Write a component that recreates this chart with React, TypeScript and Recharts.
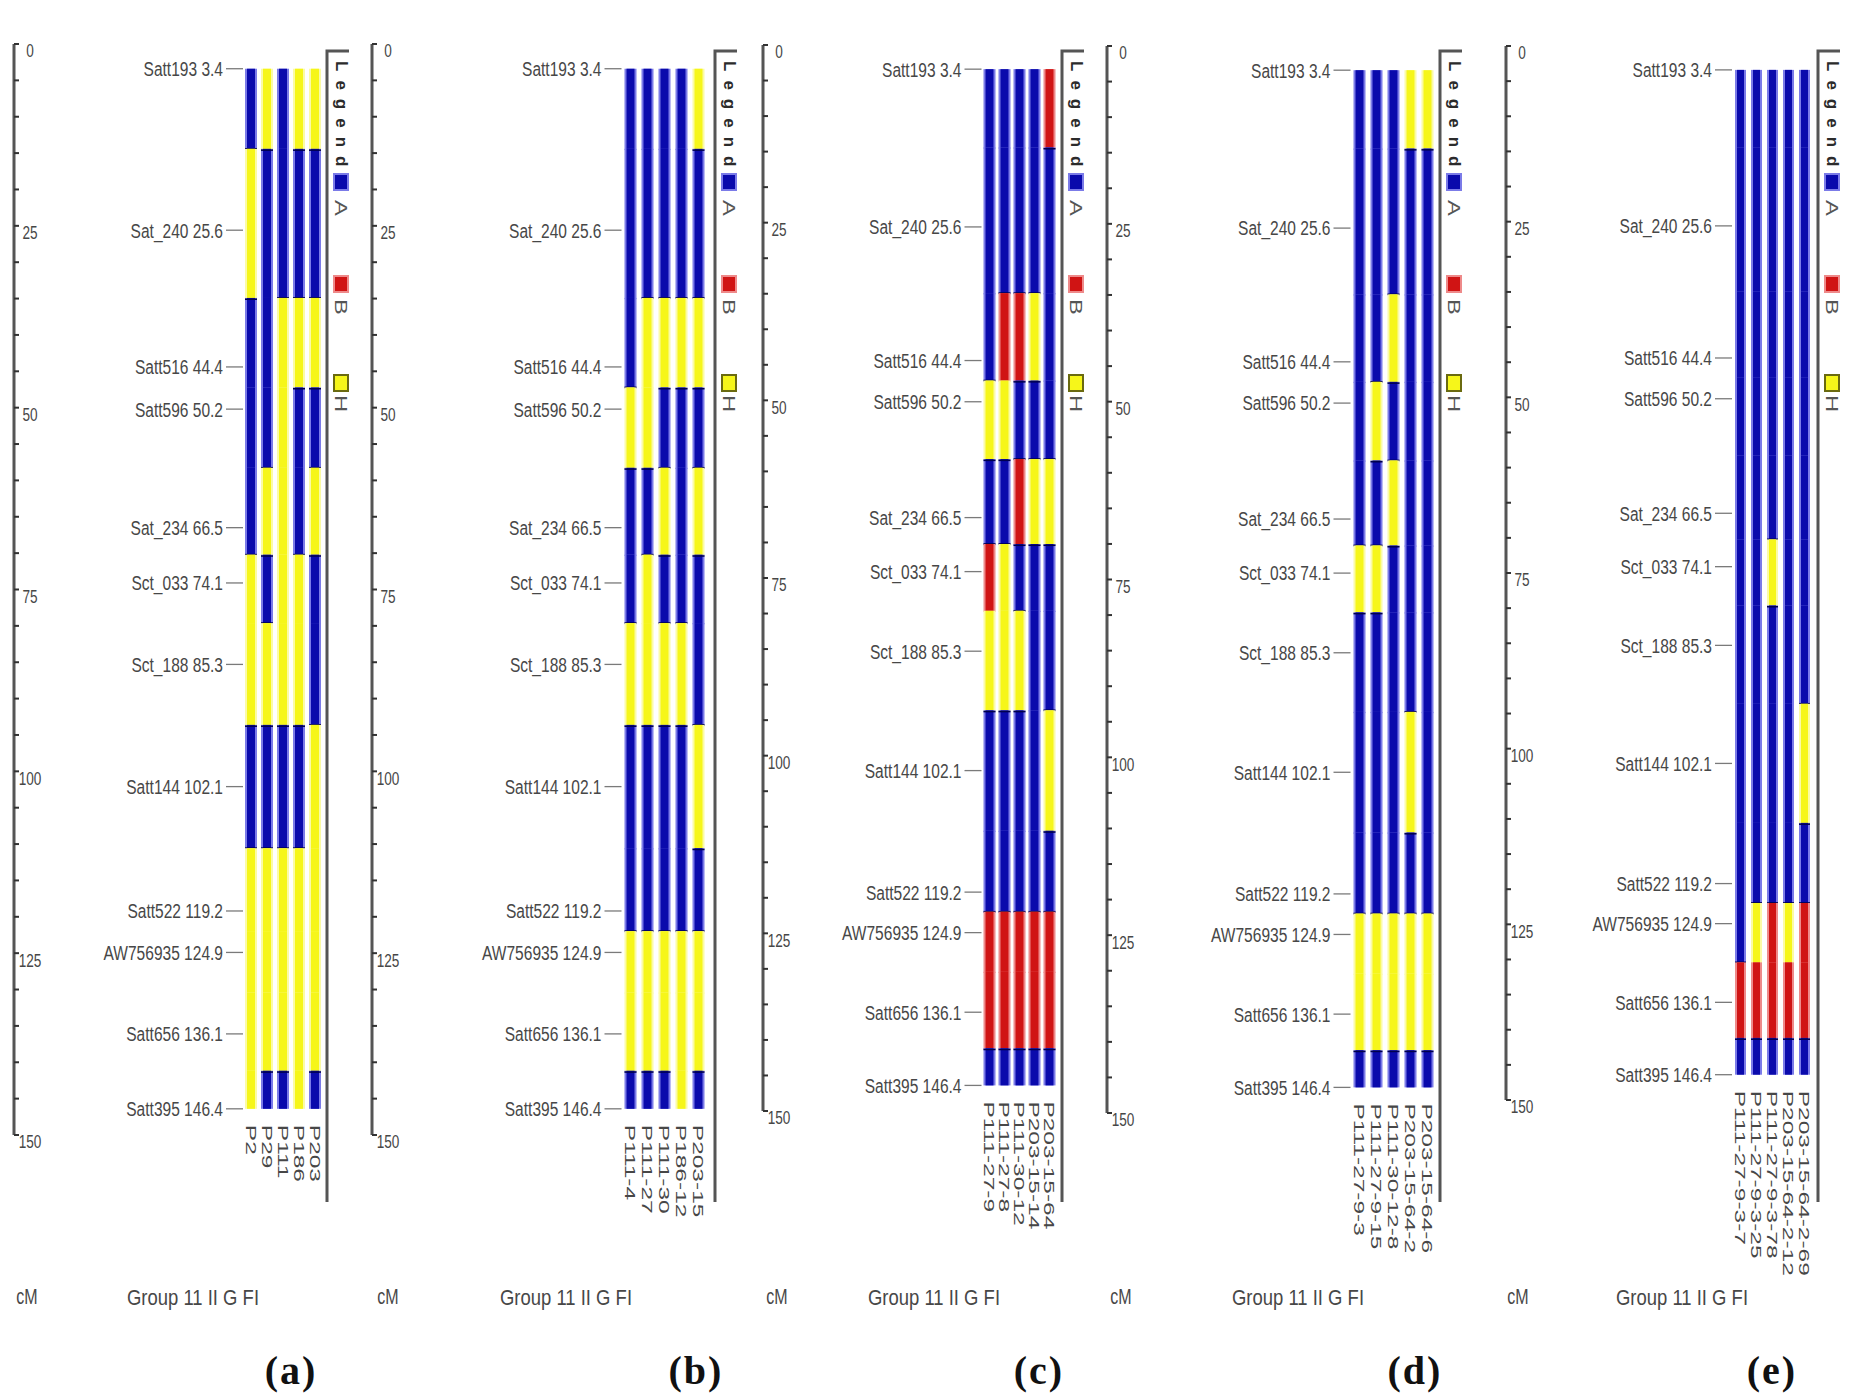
import React from 'react';
import { BarChart, Bar, XAxis, YAxis } from 'recharts';

// ---------------- data ----------------
const MARKER_NAMES = ['Satt193', 'Sat_240', 'Satt516', 'Satt596', 'Sat_234', 'Sct_033', 'Sct_188', 'Satt144', 'Satt522', 'AW756935', 'Satt656', 'Satt395'];
const MARKER_POS = [3.4, 25.6, 44.4, 50.2, 66.5, 74.1, 85.3, 102.1, 119.2, 124.9, 136.1, 146.4];

const CM_TICKS = [0, 5, 10, 15, 20, 25, 30, 35, 40, 45, 50, 55, 60, 65, 70, 75, 80, 85, 90, 95, 100, 105, 110, 115, 120, 125, 130, 135, 140, 145, 150];
const CM_LABELS = [0, 25, 50, 75, 100, 125, 150];

// genotype per line, one letter per marker (A / B / H)
const LINES_A = ['P2', 'P29', 'P111', 'P186', 'P203'];
const GENO_A = ['AHAAAHHAHHHH', 'HAAAHAHAHHHA', 'AAHHHHHAHHHA', 'HAHAAHHAHHHH', 'HAHAHAAHHHHA'];

const LINES_B = ['P111-4', 'P111-27', 'P111-30', 'P186-12', 'P203-15'];
const GENO_B = ['AAAHAAHAAHHA', 'AAHHAHHAAHHA', 'AAHAHAHAAHHA', 'AAHAAAHAAHHH', 'HAHAHAAHAHHA'];

const LINES_C = ['P111-27-9', 'P111-27-8', 'P111-30-12', 'P203-15-14', 'P203-15-64'];
const GENO_C = ['AAAHABHAABBA', 'AABHAHHAABBA', 'AABABAHAABBA', 'AAHAHAAAABBA', 'BAAAHAAHABBA'];

const LINES_D = ['P111-27-9-3', 'P111-27-9-15', 'P111-30-12-8', 'P203-15-64-2', 'P203-15-64-6'];
const GENO_D = ['AAAAAHAAAHHA', 'AAAHAHAAAHHA', 'AAHAHAAAAHHA', 'HAAAAAAHAHHA', 'HAAAAAAAAHHA'];

const LINES_E = ['P111-27-9-3-7', 'P111-27-9-3-25', 'P111-27-9-3-78', 'P203-15-64-2-12', 'P203-15-64-2-69'];
const GENO_E = ['AAAAAAAAAABA', 'AAAAAAAAAHBA', 'AAAAAHAAABBA', 'AAAAAAAAAHBA', 'AAAAAAAHABBA'];

const PANEL_LETTERS = ['(a)', '(b)', '(c)', '(d)', '(e)'];
const GROUP_TITLE = 'Group 11 II G FI';
const UNIT_LABEL = 'cM';
const LEGEND_TITLE = 'Legend';
const LEGEND_KEYS = ['A', 'B', 'H'];

const PANELS = [
  { lines: LINES_A, geno: GENO_A },
  { lines: LINES_B, geno: GENO_B },
  { lines: LINES_C, geno: GENO_C },
  { lines: LINES_D, geno: GENO_D },
  { lines: LINES_E, geno: GENO_E },
];

// ---------------- layout / style ----------------
const LAYOUT = [
  { axisX: 14, y0: 44, y150: 1135, plotLeft: 243, pitch: 16, barSize: 12, legendX: 327, cmX: 27, groupX: 193, letterX: 291 },
  { axisX: 372, y0: 44, y150: 1135, plotLeft: 621.5, pitch: 17, barSize: 12, legendX: 715, cmX: 388, groupX: 566, letterX: 696 },
  { axisX: 763, y0: 45, y150: 1111, plotLeft: 981.5, pitch: 15, barSize: 12, legendX: 1062, cmX: 777, groupX: 934, letterX: 1039 },
  { axisX: 1107, y0: 46, y150: 1113, plotLeft: 1350.5, pitch: 17, barSize: 12, legendX: 1440, cmX: 1121, groupX: 1298, letterX: 1415 },
  { axisX: 1506, y0: 46, y150: 1100, plotLeft: 1732, pitch: 16, barSize: 11, legendX: 1818, cmX: 1518, groupX: 1682, letterX: 1772 },
];

const COLORS: Record<string, { core: string; edge: string }> = {
  A: { core: '#0a0aac', edge: '#7b7be8' },
  B: { core: '#d01414', edge: '#ee8a8a' },
  H: { core: '#f6f61a', edge: '#fbfba6' },
};

const FONT = '"Liberation Sans", Arial, Helvetica, sans-serif';
const SERIF = '"Liberation Serif", "Times New Roman", serif';
const TEXT_GRAY = '#474747';
const CHART_H = 1300;

// segment boundaries: from first marker, midpoints between markers, to last marker
const BOUNDS = [
  MARKER_POS[0],
  ...MARKER_POS.slice(0, -1).map((p, i) => (p + MARKER_POS[i + 1]) / 2),
  MARKER_POS[MARKER_POS.length - 1],
];
const SEG_KEYS = MARKER_POS.map((_, i) => `s${i}`);

function buildRows(lines: string[]) {
  return lines.map((name) => {
    const row: any = { name, off: BOUNDS[0] };
    SEG_KEYS.forEach((k, i) => {
      row[k] = BOUNDS[i + 1] - BOUNDS[i];
    });
    return row;
  });
}

const makeSegShape = (lines: string[], geno: string[], seg: number) => (props: any) => {
  let { x, y, width, height } = props;
  if (height < 0) {
    y += height;
    height = -height;
  }
  const ci0 = lines.indexOf(props.payload?.name);
  const ci = ci0 >= 0 ? ci0 : props.index;
  const g = geno[ci]?.[seg] ?? 'A';
  const c = COLORS[g];
  const last = MARKER_POS.length - 1;
  const prev = seg > 0 ? geno[ci][seg - 1] : null;
  const next = seg < last ? geno[ci][seg + 1] : null;
  // small overlap so neighbouring segments of the same colour join without seams
  const yy = seg > 0 ? y - 0.6 : y;
  const hh = height + (seg > 0 ? 0.6 : 0) + (seg < last ? 0.6 : 0);
  return (
    <g>
      <rect x={x} y={yy} width={width} height={hh} fill={c.edge} />
      <rect x={x + 2} y={yy} width={width - 4} height={hh} fill={c.core} />
      {g === 'A' && prev && prev !== 'A' && (
        <line x1={x} x2={x + width} y1={y + 0.7} y2={y + 0.7} stroke="#000050" strokeWidth={1.5} />
      )}
      {g === 'A' && next && next !== 'A' && (
        <line x1={x} x2={x + width} y1={y + height - 0.7} y2={y + height - 0.7} stroke="#000050" strokeWidth={1.5} />
      )}
    </g>
  );
};

const MarkerTick = (props: any) => {
  const { x, y, payload } = props;
  const idx = MARKER_POS.indexOf(payload.value);
  const label = idx >= 0 ? `${MARKER_NAMES[idx]} ${MARKER_POS[idx].toFixed(1)}` : '';
  return (
    <g transform={`translate(${x},${y}) scale(0.74,1)`}>
      <text x={0} y={0} textAnchor="end" dominantBaseline="central" fontSize={21} fill={TEXT_GRAY} fontFamily={FONT}>
        {label}
      </text>
    </g>
  );
};

const makeLineTick = (labelTop: number) => (props: any) => {
  const { x, payload } = props;
  return (
    <text
      transform={`translate(${x},${labelTop}) rotate(90) scale(1.75,1)`}
      x={0}
      y={0}
      fontSize={14}
      dominantBaseline="central"
      fill={TEXT_GRAY}
      fontFamily={FONT}
    >
      {payload.value}
    </text>
  );
};

const makeCmTick = (ax: number) => (props: any) => {
  const { y, payload } = props;
  const v = payload.value;
  return (
    <g>
      <line x1={ax} x2={ax + 5} y1={y} y2={y} stroke="#333" strokeWidth={2} />
      {CM_LABELS.includes(v) && (
        <g transform={`translate(${ax + 16},${y + 7}) scale(0.85,1.2)`}>
          <text x={0} y={0} textAnchor="middle" dominantBaseline="central" fontSize={16} fill={TEXT_GRAY} fontFamily={FONT}>
            {v}
          </text>
        </g>
      )}
    </g>
  );
};

function CmAxisChart({ L }: { L: (typeof LAYOUT)[number] }) {
  const left = L.axisX - 10;
  return (
    <div style={{ position: 'absolute', left, top: 0 }}>
      <BarChart
        width={60}
        height={CHART_H}
        data={[{ name: 'x', v: 0 }]}
        margin={{ top: L.y0, bottom: CHART_H - L.y150, left: 10, right: 0 }}
      >
        <XAxis dataKey="name" hide />
        <YAxis
          type="number"
          domain={[0, 150]}
          reversed
          mirror
          allowDataOverflow
          ticks={CM_TICKS}
          interval={0}
          axisLine={{ stroke: '#555', strokeWidth: 3 }}
          tickLine={false}
          tick={makeCmTick(10)}
        />
        <Bar dataKey="v" fill="none" isAnimationActive={false} />
      </BarChart>
    </div>
  );
}

function GenotypeChart({ L, panel }: { L: (typeof LAYOUT)[number]; panel: (typeof PANELS)[number] }) {
  const chartLeft = L.axisX + 40;
  const yAxisW = L.plotLeft - chartLeft - 4;
  const width = L.plotLeft - chartLeft + 5 * L.pitch + 4;
  const scaleY = (v: number) => L.y0 + ((L.y150 - L.y0) * v) / 150;
  const labelTop = scaleY(MARKER_POS[MARKER_POS.length - 1]) + 16;
  const rows = buildRows(panel.lines);
  return (
    <div style={{ position: 'absolute', left: chartLeft, top: 0 }}>
      <BarChart
        width={width}
        height={CHART_H}
        data={rows}
        margin={{ top: L.y0, bottom: 0, left: 4, right: 4 }}
        barSize={L.barSize}
      >
        <XAxis
          dataKey="name"
          type="category"
          height={CHART_H - L.y150}
          axisLine={false}
          tickLine={false}
          interval={0}
          tick={makeLineTick(labelTop)}
        />
        <YAxis
          type="number"
          domain={[0, 150]}
          reversed
          allowDataOverflow
          width={yAxisW}
          ticks={MARKER_POS}
          interval={0}
          axisLine={false}
          tickSize={17}
          tickMargin={3}
          tickLine={{ stroke: '#7a7a7a', strokeWidth: 1.3 }}
          tick={<MarkerTick />}
        />
        <Bar dataKey="off" stackId="g" fill="none" isAnimationActive={false} />
        {SEG_KEYS.map((k, i) => (
          <Bar
            key={k}
            dataKey={k}
            stackId="g"
            isAnimationActive={false}
            shape={makeSegShape(panel.lines, panel.geno, i)}
          />
        ))}
      </BarChart>
    </div>
  );
}

function Overlay() {
  const keyColors = [COLORS.A, COLORS.B, COLORS.H];
  const squareY = [174, 276, 375];
  const letterY = [200, 299, 395];
  return (
    <svg
      width={1856}
      height={1400}
      style={{ position: 'absolute', left: 0, top: 0, pointerEvents: 'none' }}
    >
      {LAYOUT.map((L, p) => {
        const Lx = L.legendX;
        return (
          <g key={p}>
            <polyline points={`${Lx + 22},51 ${Lx},51 ${Lx},1202`} fill="none" stroke="#555" strokeWidth={3} />
            <text
              transform={`translate(${Lx + 14},61) rotate(90)`}
              dominantBaseline="central"
              fontSize={17}
              fontWeight="bold"
              letterSpacing={9}
              fill="#2b2b2b"
              fontFamily={FONT}
            >
              {LEGEND_TITLE}
            </text>
            {LEGEND_KEYS.map((k, i) => (
              <g key={k}>
                <rect
                  x={Lx + 7}
                  y={squareY[i]}
                  width={14}
                  height={16}
                  fill={keyColors[i].core}
                  stroke={k === 'H' ? '#6a6a10' : keyColors[i].edge}
                  strokeWidth={2}
                />
                <text
                  transform={`translate(${Lx + 14},${letterY[i]}) rotate(90) scale(1.4,1)`}
                  dominantBaseline="central"
                  fontSize={17}
                  fill="#555"
                  fontFamily={FONT}
                >
                  {k}
                </text>
              </g>
            ))}
            <g transform={`translate(${L.cmX},1297) scale(0.8,1.1)`}>
              <text textAnchor="middle" dominantBaseline="central" fontSize={20} fill={TEXT_GRAY} fontFamily={FONT}>
                {UNIT_LABEL}
              </text>
            </g>
            <g transform={`translate(${L.groupX},1297) scale(0.84,1)`}>
              <text textAnchor="middle" dominantBaseline="central" fontSize={22} fill={TEXT_GRAY} fontFamily={FONT}>
                {GROUP_TITLE}
              </text>
            </g>
            <text
              x={L.letterX}
              y={1384}
              textAnchor="middle"
              fontSize={40}
              fontWeight="bold"
              letterSpacing={2}
              fill="#111"
              fontFamily={SERIF}
            >
              {PANEL_LETTERS[p]}
            </text>
          </g>
        );
      })}
    </svg>
  );
}

export default function App() {
  return (
    <div style={{ position: 'absolute', left: 0, top: 0, width: 1856, height: 1400, background: '#fff', overflow: 'hidden' }}>
      {LAYOUT.map((L, p) => (
        <React.Fragment key={p}>
          <CmAxisChart L={L} />
          <GenotypeChart L={L} panel={PANELS[p]} />
        </React.Fragment>
      ))}
      <Overlay />
    </div>
  );
}
